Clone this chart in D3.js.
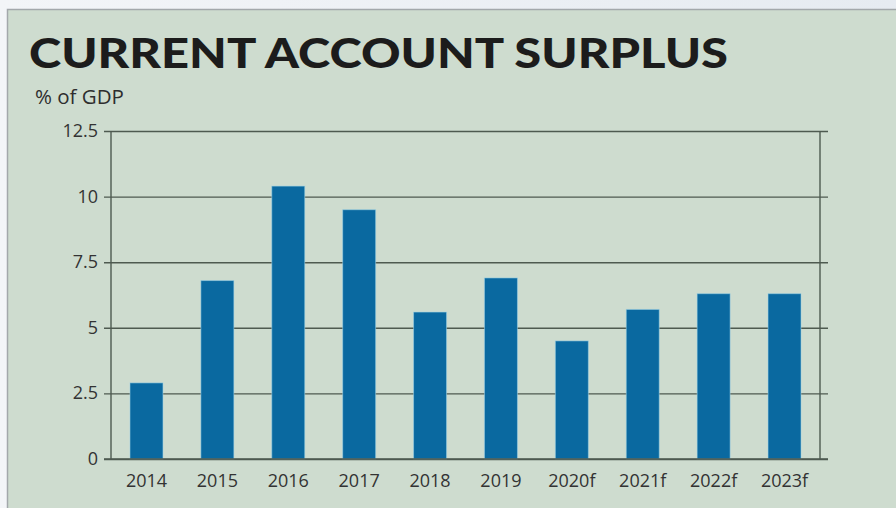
<!DOCTYPE html>
<html>
<head>
<meta charset="utf-8">
<script src="https://cdn.jsdelivr.net/npm/d3@7"></script>
<style>
  html, body { margin: 0; padding: 0; background: #e8edf2; }
  svg { display: block; }
</style>
</head>
<body>
<svg id="chart" width="896" height="508"></svg>
<script>
// Current account surplus, % of GDP (f = forecast)
const years = ["2014", "2015", "2016", "2017", "2018", "2019", "2020f", "2021f", "2022f", "2023f"];
const surplus = [2.9, 6.8, 10.4, 9.5, 5.6, 6.9, 4.5, 5.7, 6.3, 6.3];
const yTicks = [0, 2.5, 5, 7.5, 10, 12.5];
const yTickLabels = ["0", "2.5", "5", "7.5", "10", "12.5"];

const svg = d3.select("#chart");
const W = 896, H = 508;
const labelFont = "'Open Sans', 'Noto Sans', sans-serif";

// page backdrop with a soft light edge on the left
const defs = svg.append("defs");
const bg = defs.append("linearGradient").attr("id", "bgGrad").attr("x1", 0).attr("x2", 1).attr("y1", 0).attr("y2", 0);
bg.append("stop").attr("offset", "0").attr("stop-color", "#f3f5f8");
bg.append("stop").attr("offset", "1").attr("stop-color", "#e6ebf1");
svg.append("rect").attr("width", W).attr("height", H).attr("fill", "url(#bgGrad)");

// card panel
svg.append("rect")
  .attr("x", 7.5).attr("y", 9.5)
  .attr("width", W + 10).attr("height", H + 10)
  .attr("fill", "#cedccf")
  .attr("stroke", "#a3a8ab")
  .attr("stroke-width", 1.5);

// title
svg.append("text")
  .attr("x", 29).attr("y", 68)
  .attr("font-family", "Lato, 'Open Sans', sans-serif")
  .attr("font-weight", 900)
  .attr("font-size", 42.5)
  .attr("fill", "#1c1c1c")
  .attr("textLength", 699)
  .attr("lengthAdjust", "spacingAndGlyphs")
  .text("CURRENT ACCOUNT SURPLUS");

svg.append("text")
  .attr("x", 35).attr("y", 104)
  .attr("font-family", labelFont)
  .attr("font-size", 20.5)
  .attr("fill", "#2e2e2e")
  .text("% of GDP");

// plot area
const plotLeft = 111, plotRight = 820, plotTop = 131, plotBottom = 459;

const x = d3.scaleBand()
  .domain(years)
  .range([plotLeft, plotRight])
  .paddingInner(0.535)
  .paddingOuter(0.268);

const y = d3.scaleLinear()
  .domain([0, 12.5])
  .range([plotBottom, plotTop]);

const gridColor = "#4e5a50";

// horizontal gridlines with ticks extending past both sides
const yAxis = d3.axisLeft(y)
  .tickValues(yTicks)
  .tickFormat((d, i) => yTickLabels[i])
  .tickSize(0)
  .tickPadding(6);

const gy = svg.append("g")
  .attr("transform", `translate(${plotLeft - 7},0)`);
gy.call(yAxis);
gy.select(".domain").remove();
gy.selectAll(".tick line")
  .attr("x1", 0)
  .attr("x2", plotRight - plotLeft + 15)
  .attr("stroke", gridColor)
  .attr("stroke-width", 1.4);
gy.selectAll(".tick text")
  .attr("x", -6)
  .attr("dy", "0.3em")
  .attr("font-family", labelFont)
  .attr("font-size", 18)
  .attr("fill", "#333");

// bars
svg.append("g").selectAll("rect")
  .data(years)
  .join("rect")
  .attr("x", d => x(d))
  .attr("width", x.bandwidth())
  .attr("y", (d, i) => y(surplus[i]))
  .attr("height", (d, i) => y(0) - y(surplus[i]))
  .attr("fill", "#0a69a0")
  .attr("stroke", "#9fd3e8")
  .attr("stroke-opacity", 0.55)
  .attr("stroke-width", 1);

// left and right frame lines
svg.append("line")
  .attr("x1", plotLeft).attr("x2", plotLeft)
  .attr("y1", plotTop).attr("y2", plotBottom)
  .attr("stroke", gridColor).attr("stroke-width", 1.4);
svg.append("line")
  .attr("x1", plotRight).attr("x2", plotRight)
  .attr("y1", plotTop).attr("y2", plotBottom)
  .attr("stroke", gridColor).attr("stroke-width", 1.4);

// baseline redrawn over the bars
svg.append("line")
  .attr("x1", plotLeft - 7).attr("x2", plotRight + 8)
  .attr("y1", y(0)).attr("y2", y(0))
  .attr("stroke", gridColor).attr("stroke-width", 1.4);

// category axis labels
const xAxis = d3.axisBottom(x).tickSize(0).tickPadding(15);
const gx = svg.append("g").attr("transform", `translate(0,${plotBottom})`);
gx.call(xAxis);
gx.select(".domain").remove();
gx.selectAll(".tick text")
  .attr("font-family", labelFont)
  .attr("font-size", 18)
  .attr("fill", "#333");
</script>
</body>
</html>
